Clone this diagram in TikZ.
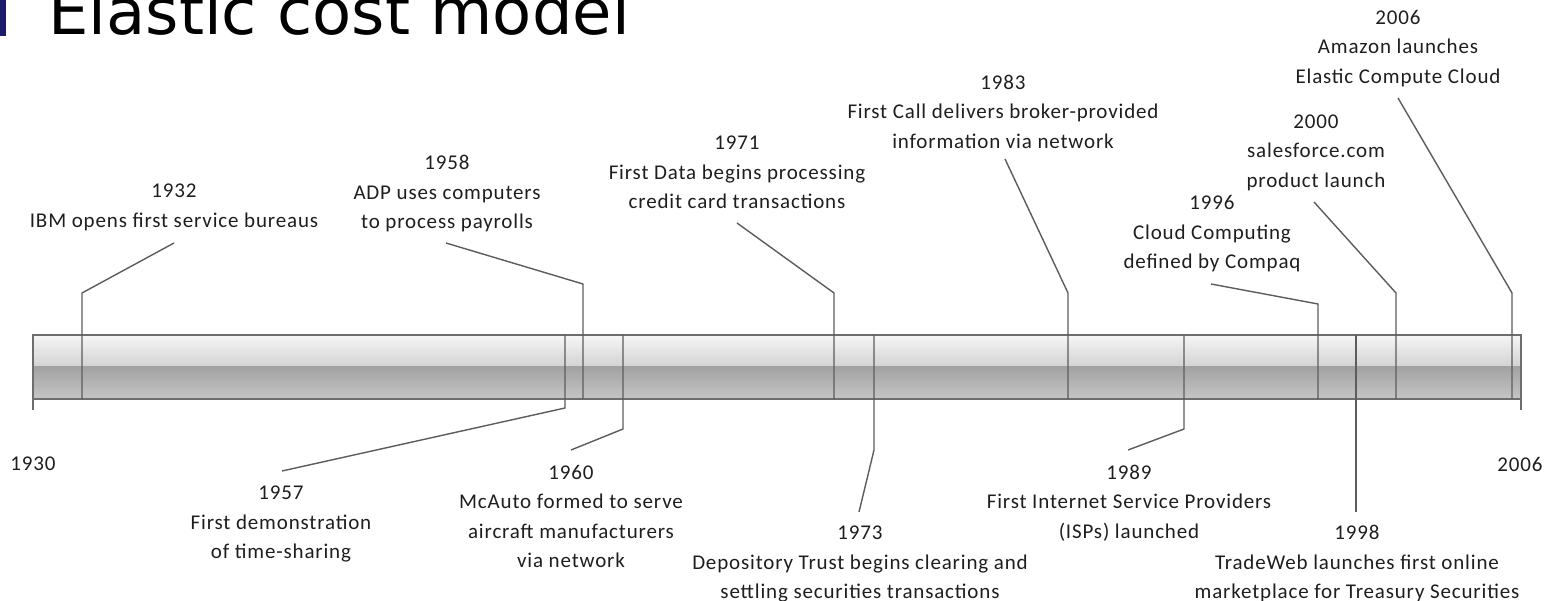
\documentclass[tikz,border=0pt]{standalone}
\usepackage{fontspec}
\setmainfont[LetterSpace=4]{Carlito}
\newfontfamily\titlefont{DejaVu Sans}
\definecolor{txt}{HTML}{1E1E1E}
\definecolor{leadc}{HTML}{5C5C5C}
\definecolor{barline}{HTML}{6E6E6E}
\definecolor{bartop}{HTML}{F6F6F6}
\definecolor{barmidup}{HTML}{D2D2D2}
\definecolor{barmidlo}{HTML}{A2A2A2}
\definecolor{barbot}{HTML}{C6C6C6}
\definecolor{navy}{HTML}{1C1C6A}
\begin{document}
\begin{tikzpicture}[x=1pt,y=-1pt,
  lbl/.style={align=center,font=\fontsize{21}{29.5}\selectfont,text=txt,inner sep=0pt},
  lead/.style={draw=leadc,line width=1.4pt,line join=round},
  barframe/.style={draw=barline,line width=1.4pt},
]
\useasboundingbox (0,0) rectangle (1553,601);
% title
\fill[navy] (0,0) rectangle (6,36);
\node[anchor=base west,inner sep=0pt,text=black,font=\titlefont\fontsize{64}{64}\selectfont] (title) at (48,35) {Elastic cost model};
% bar
\shade[top color=bartop,bottom color=barmidup] (33,335) rectangle (1521,367);
\shade[top color=barmidlo,bottom color=barbot] (33,367) rectangle (1521,399);
\draw[barframe] (33,335) rectangle (1521,399);
\coordinate (L0) at (33,399); \coordinate (L1) at (33,410);
\coordinate (R0) at (1521,399); \coordinate (R1) at (1521,410);
\draw[barframe] (L0) -- (L1);
\draw[barframe] (R0) -- (R1);
\node[lbl] (y1930) at (33,464) {1930};
\node[lbl] (y2006) at (1520,464) {2006};
% top labels
\node[lbl] (n1932) at (174,207.5) {1932\\IBM opens first service bureaus};
\node[lbl] (n1958) at (447,194) {1958\\ADP uses computers\\to process payrolls};
\node[lbl] (n1971) at (737,172.5) {1971\\First Data begins processing\\credit card transactions};
\node[lbl] (n1983) at (1003,111.5) {1983\\First Call delivers broker-provided\\information via network};
\node[lbl] (n1996) at (1212,234) {1996\\Cloud Computing\\defined by Compaq};
\node[lbl] (n2000) at (1316,152.5) {2000\\salesforce.com\\product launch};
\node[lbl] (n2006) at (1398,48.5) {2006\\Amazon launches\\Elastic Compute Cloud};
% bottom labels
\node[lbl] (n1957) at (281,524) {1957\\First demonstration\\of time-sharing};
\node[lbl] (n1960) at (571,516.5) {1960\\McAuto formed to serve\\aircraft manufacturers\\via network};
\node[lbl] (n1973) at (860,564) {1973\\Depository Trust begins clearing and\\settling securities transactions};
\node[lbl] (n1989) at (1129,503) {1989\\First Internet Service Providers\\(ISPs) launched};
\node[lbl] (n1998) at (1357,564) {1998\\TradeWeb launches first online\\marketplace for Treasury Securities};
% top leaders
\coordinate (a1932) at (174,243); \coordinate (k1932) at (82,293); \coordinate (e1932) at (82,399);
\coordinate (a1958) at (446,243); \coordinate (k1958) at (583,284); \coordinate (e1958) at (583,399);
\coordinate (a1971) at (737,223); \coordinate (k1971) at (834,293); \coordinate (e1971) at (834,399);
\coordinate (a1983) at (1005,159); \coordinate (k1983) at (1068,293); \coordinate (e1983) at (1068,399);
\coordinate (a1996) at (1211,284); \coordinate (k1996) at (1318,304); \coordinate (e1996) at (1318,399);
\coordinate (a2000) at (1314,202); \coordinate (k2000) at (1396,293); \coordinate (e2000) at (1396,399);
\coordinate (a2006) at (1398,98); \coordinate (k2006) at (1512,293); \coordinate (e2006) at (1512,399);
\foreach \y in {1932,1958,1971,1983,1996,2000,2006}
  \draw[lead] (a\y) -- (k\y) -- (e\y);
% bottom leaders
\coordinate (e1957) at (565,335); \coordinate (k1957) at (565,408); \coordinate (a1957) at (282,471);
\coordinate (e1960) at (623,335); \coordinate (k1960) at (623,429); \coordinate (a1960) at (571,450);
\coordinate (e1973) at (874,335); \coordinate (k1973) at (874,450); \coordinate (a1973) at (859,512);
\coordinate (e1989) at (1184,335); \coordinate (k1989) at (1184,429); \coordinate (a1989) at (1128,450);
\foreach \y in {1957,1960,1973,1989}
  \draw[lead] (e\y) -- (k\y) -- (a\y);
\coordinate (e1998) at (1356,335); \coordinate (a1998) at (1356,512);
\draw[lead] (e1998) -- (a1998);
\end{tikzpicture}
\end{document}
